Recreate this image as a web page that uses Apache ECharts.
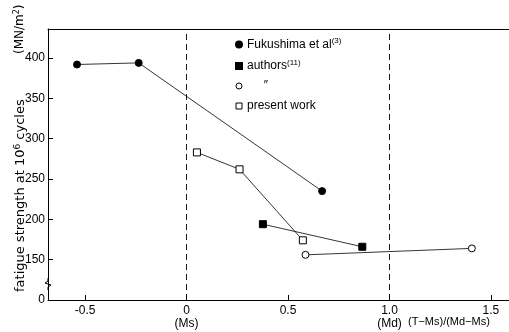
<!DOCTYPE html>
<html><head><meta charset="utf-8">
<script src="https://cdn.jsdelivr.net/npm/echarts@6/dist/echarts.min.js"></script>
<style>html,body{margin:0;padding:0;background:#fff}#c{width:509px;height:332px}</style>
</head><body><div id="c"></div>
<script>
// Data
const fukushima = [[-0.54, 392], [-0.236, 394], [0.668, 235]];
const authorsFilled = [[0.376, 194], [0.866, 166]];
const authorsOpen = [[0.586, 156], [1.406, 164]];
const presentWork = [[0.051, 283], [0.261, 262], [0.573, 174]];
const xTicks = [-0.5, 0, 0.5, 1.0, 1.5];
const xTickLabels = ['-0.5', '0', '0.5', '1.0', '1.5'];
const yTicks = [100, 150, 200, 250, 300, 350, 400];
const yTickLabels = ['0', '150', '200', '250', '300', '350', '400'];
const markerLines = [0, 1.0];

const FONT = 'Liberation Sans';
const chart = echarts.init(document.getElementById('c'), null, {renderer: 'canvas'});
const lineStyle = {color: '#000', width: 0.8};
function mk(name, data, symbol, filled) {
  return {
    name, type: 'line', data, symbol, symbolSize: 7, showSymbol: true,
    lineStyle, itemStyle: {color: filled ? '#000' : '#fff', borderColor: '#000', borderWidth: 1},
    emphasis: {disabled: true}, z: 3
  };
}
const series = [
  mk('fuk', fukushima, 'circle', true),
  mk('authF', authorsFilled, 'rect', true),
  mk('authO', authorsOpen, 'circle', false),
  mk('pw', presentWork, 'rect', false)
];
series[0].markLine = {
  silent: true, symbol: 'none', label: {show: false},
  lineStyle: {color: '#000', type: [6, 4], width: 0.9},
  data: markerLines.map(v => ({xAxis: v}))
};
const sup = {fontSize: 8, verticalAlign: 'top', padding: [0, 0, 7, 0], fontFamily: FONT, color: '#000'};
chart.setOption({
  animation: false,
  grid: {left: 48, right: 0, top: 29, bottom: 32},
  legend: {
    orient: 'vertical', left: 230, top: 32, itemGap: 8, itemWidth: 6, itemHeight: 6,
    selectedMode: false,
    textStyle: {fontFamily: FONT, fontSize: 12, color: '#000', rich: {s: sup, n: {fontSize: 12, fontFamily: FONT}}},
    data: [
      {name: 'fuk', icon: 'circle', itemStyle: {color: '#000', borderColor: '#000'}},
      {name: 'authF', icon: 'rect', itemStyle: {color: '#000', borderColor: '#000'}},
      {name: 'authO', icon: 'circle', itemStyle: {color: '#fff', borderColor: '#000', borderWidth: 1}},
      {name: 'pw', icon: 'rect', itemStyle: {color: '#fff', borderColor: '#000', borderWidth: 1}}
    ],
    formatter: function (n) {
      if (n === 'fuk') return '{n|Fukushima et al}{s|(3)}';
      if (n === 'authF') return '{n|authors}{s|(11)}';
      if (n === 'authO') return '{n|     \u2033}';
      return '{n|present work}';
    }
  },
  xAxis: [{
    type: 'value', min: -0.683, max: 1.589,
    axisLine: {onZero: false, lineStyle: {color: '#000', width: 1}},
    splitLine: {show: false},
    axisTick: {show: true, inside: true, length: 5, customValues: xTicks, lineStyle: {color: '#000'}},
    axisLabel: {
      customValues: xTicks, margin: 4, fontFamily: FONT, fontSize: 12, color: '#000', lineHeight: 13,
      formatter: function (v) {
        const i = xTicks.findIndex(t => Math.abs(t - v) < 1e-6);
        let s = i >= 0 ? xTickLabels[i] : '';
        if (Math.abs(v) < 1e-6) s += '\n(Ms)';
        if (Math.abs(v - 1) < 1e-6) s += '\n(Md)';
        return s;
      }
    }
  }, {
    type: 'value', position: 'top', min: -0.683, max: 1.589,
    axisLine: {show: true, onZero: false, lineStyle: {color: '#000', width: 1}},
    axisTick: {show: false}, axisLabel: {show: false}, splitLine: {show: false}
  }],
  yAxis: {
    type: 'value', min: 100, max: 436, interval: 50,
    axisLine: {show: true, onZero: false, lineStyle: {color: '#000', width: 1}},
    splitLine: {show: false},
    axisTick: {show: true, inside: true, length: 5, lineStyle: {color: '#000'}},
    axisLabel: {
      showMaxLabel: false, margin: 3, fontFamily: FONT, fontSize: 12, color: '#000',
      formatter: function (v) {
        const i = yTicks.indexOf(v);
        return i >= 0 ? yTickLabels[i] : '';
      }
    }
  },
  graphic: [
    {type: 'text', left: 408, top: 316, style: {text: '(T\u2212Ms)/(Md\u2212Ms)', font: '11px ' + FONT, fill: '#000'}},
    {type: 'text', x: 13, y: 292, rotation: Math.PI / 2,
      style: {text: '{n|fatigue strength at 10}{s|6}{n| cycles}', font: '14px DejaVu Sans', fill: '#000',
        rich: {n: {font: '13px DejaVu Sans', fill: '#000'}, s: {font: '9px DejaVu Sans', fill: '#000', verticalAlign: 'top', padding: [0, 0, 7, 0]}}}},
    {type: 'text', x: 13, y: 54, rotation: Math.PI / 2,
      style: {text: '{n|(MN/m}{s|2}{n|)}', font: '12px DejaVu Sans', fill: '#000',
        rich: {n: {font: '12px DejaVu Sans', fill: '#000'}, s: {font: '8px DejaVu Sans', fill: '#000', verticalAlign: 'top', padding: [0, 0, 6, 0]}}}},
    {type: 'polyline', shape: {points: [[48, 278], [48, 281], [45, 283], [51, 285], [48, 287], [48, 290]]}, style: {stroke: '#000', lineWidth: 1, fill: null}}
  ],
  series
});
</script></body></html>
